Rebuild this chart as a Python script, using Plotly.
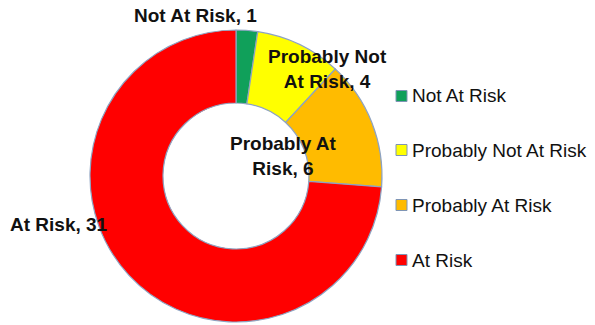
import plotly.graph_objects as go

# Risk categories and counts
categories = ["Not At Risk", "Probably Not At Risk", "Probably At Risk", "At Risk"]
counts = [1, 4, 6, 31]
colors = ["#10a05a", "#ffff00", "#ffbb00", "#ff0000"]

W, H = 595, 325


def px(x):
    return x / W


def py(y):
    return 1 - y / H


fig = go.Figure()
fig.add_trace(go.Pie(
    labels=categories,
    values=counts,
    hole=0.5,
    sort=False,
    direction="clockwise",
    rotation=0,
    textinfo="none",
    hoverinfo="label+value",
    marker=dict(colors=colors, line=dict(color="#8ea3c2", width=1.2)),
    domain=dict(x=[px(90), px(382)], y=[py(322), py(30)]),
    showlegend=False,
))

# Data labels placed around the ring
label_pos = [(195, 16), (327, 69), (283, 156), (59, 224)]
label_text = [f"{categories[0]}, {counts[0]}",
              f"Probably Not<br>At Risk, {counts[1]}",
              f"Probably At<br>Risk, {counts[2]}",
              f"{categories[3]}, {counts[3]}"]
annotations = []
for (lx, ly), txt in zip(label_pos, label_text):
    annotations.append(dict(
        x=px(lx), y=py(ly), xref="paper", yref="paper",
        text="<b>" + txt + "</b>", showarrow=False,
        xanchor="center", yanchor="middle",
        font=dict(family="Liberation Sans, Arial", size=19, color="#111111"),
    ))

# Legend drawn as swatches and text on the right
shapes = []
legend_y = [96, 150, 205, 260]
for cat, col, ly in zip(categories, colors, legend_y):
    shapes.append(dict(
        type="rect", xref="paper", yref="paper",
        x0=px(396), x1=px(407), y0=py(ly + 5.5), y1=py(ly - 5.5),
        fillcolor=col, line=dict(color="#7f95b5", width=1),
    ))
    annotations.append(dict(
        x=px(410), y=py(ly), xref="paper", yref="paper",
        text=cat, showarrow=False, xanchor="left", yanchor="middle",
        font=dict(family="Liberation Sans, Arial", size=19, color="#111111"),
    ))

fig.update_layout(
    width=W, height=H,
    margin=dict(l=0, r=0, t=0, b=0),
    paper_bgcolor="white", plot_bgcolor="white",
    annotations=annotations,
    shapes=shapes,
)

fig.write_html("out.html")
